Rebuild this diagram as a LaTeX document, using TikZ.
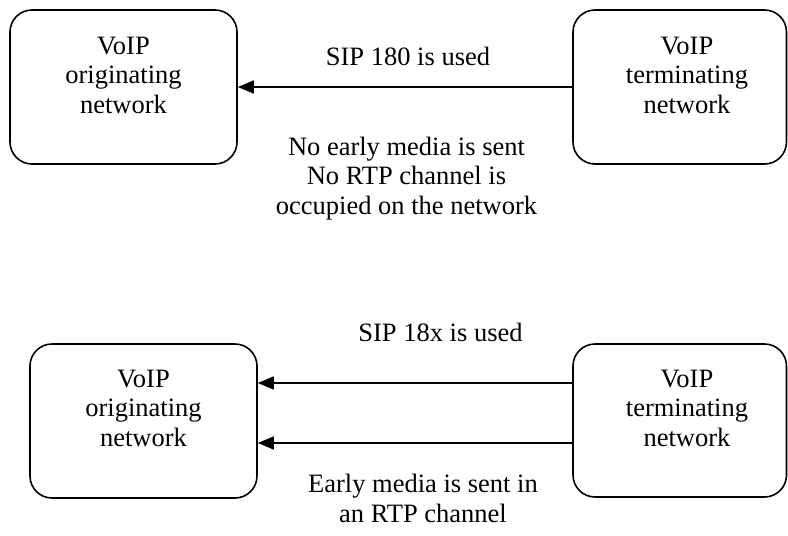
\documentclass[tikz,border=0pt]{standalone}
\usepackage{fontspec}
\setmainfont{Liberation Serif}
\usetikzlibrary{arrows.meta}
\begin{document}
\begin{tikzpicture}[x=1pt,y=-1pt,
  netbox/.style={draw, line width=1.6pt, rounded corners=22pt, inner sep=0pt},
  lbl/.style={font=\fontsize{26.5}{29.5}\selectfont, align=center, inner sep=0pt},
  msg/.style={line width=1.6pt, -{Triangle[length=16pt,width=13pt]}}]
\useasboundingbox (0,0) rectangle (788,536);

% upper scenario: SIP 180 (base anchors sit on the last line's baseline)
\node[netbox, minimum width=227pt, minimum height=154pt] (tl) at (123.5,87) {};
\node[netbox, minimum width=213.5pt, minimum height=154pt] (tr) at (679.75,87) {};
\node[lbl, anchor=base] (tltext) at (123.5,113) {VoIP\\originating\\network};
\node[lbl, anchor=base] (trtext) at (687,113) {VoIP\\terminating\\network};
\draw[msg] (tr.west) -- (tr.west -| tl.east);
\node[lbl, anchor=base] (sip180) at (408,65) {SIP 180 is used};
\node[lbl, anchor=base] (nomedia) at (406.5,214) {No early media is sent\\No RTP channel is\\occupied on the network};

% lower scenario: SIP 18x with early media
\node[netbox, minimum width=227pt, minimum height=154pt] (bl) at (143.5,421) {};
\node[netbox, minimum width=213.5pt, minimum height=153pt] (br) at (679.75,420.5) {};
\node[lbl, anchor=base] (bltext) at (143.5,446) {VoIP\\originating\\network};
\node[lbl, anchor=base] (brtext) at (687,446) {VoIP\\terminating\\network};
\draw[msg] ([yshift=37.5pt]br.west) -- ([yshift=37.5pt]br.west -| bl.east);
\draw[msg] ([yshift=-22.5pt]br.west) -- ([yshift=-22.5pt]br.west -| bl.east);
\node[lbl, anchor=base] (sip18x) at (440.5,341) {SIP 18x is used};
\node[lbl, anchor=base] (media) at (423,522) {Early media is sent in\\an RTP channel};
\end{tikzpicture}
\end{document}
